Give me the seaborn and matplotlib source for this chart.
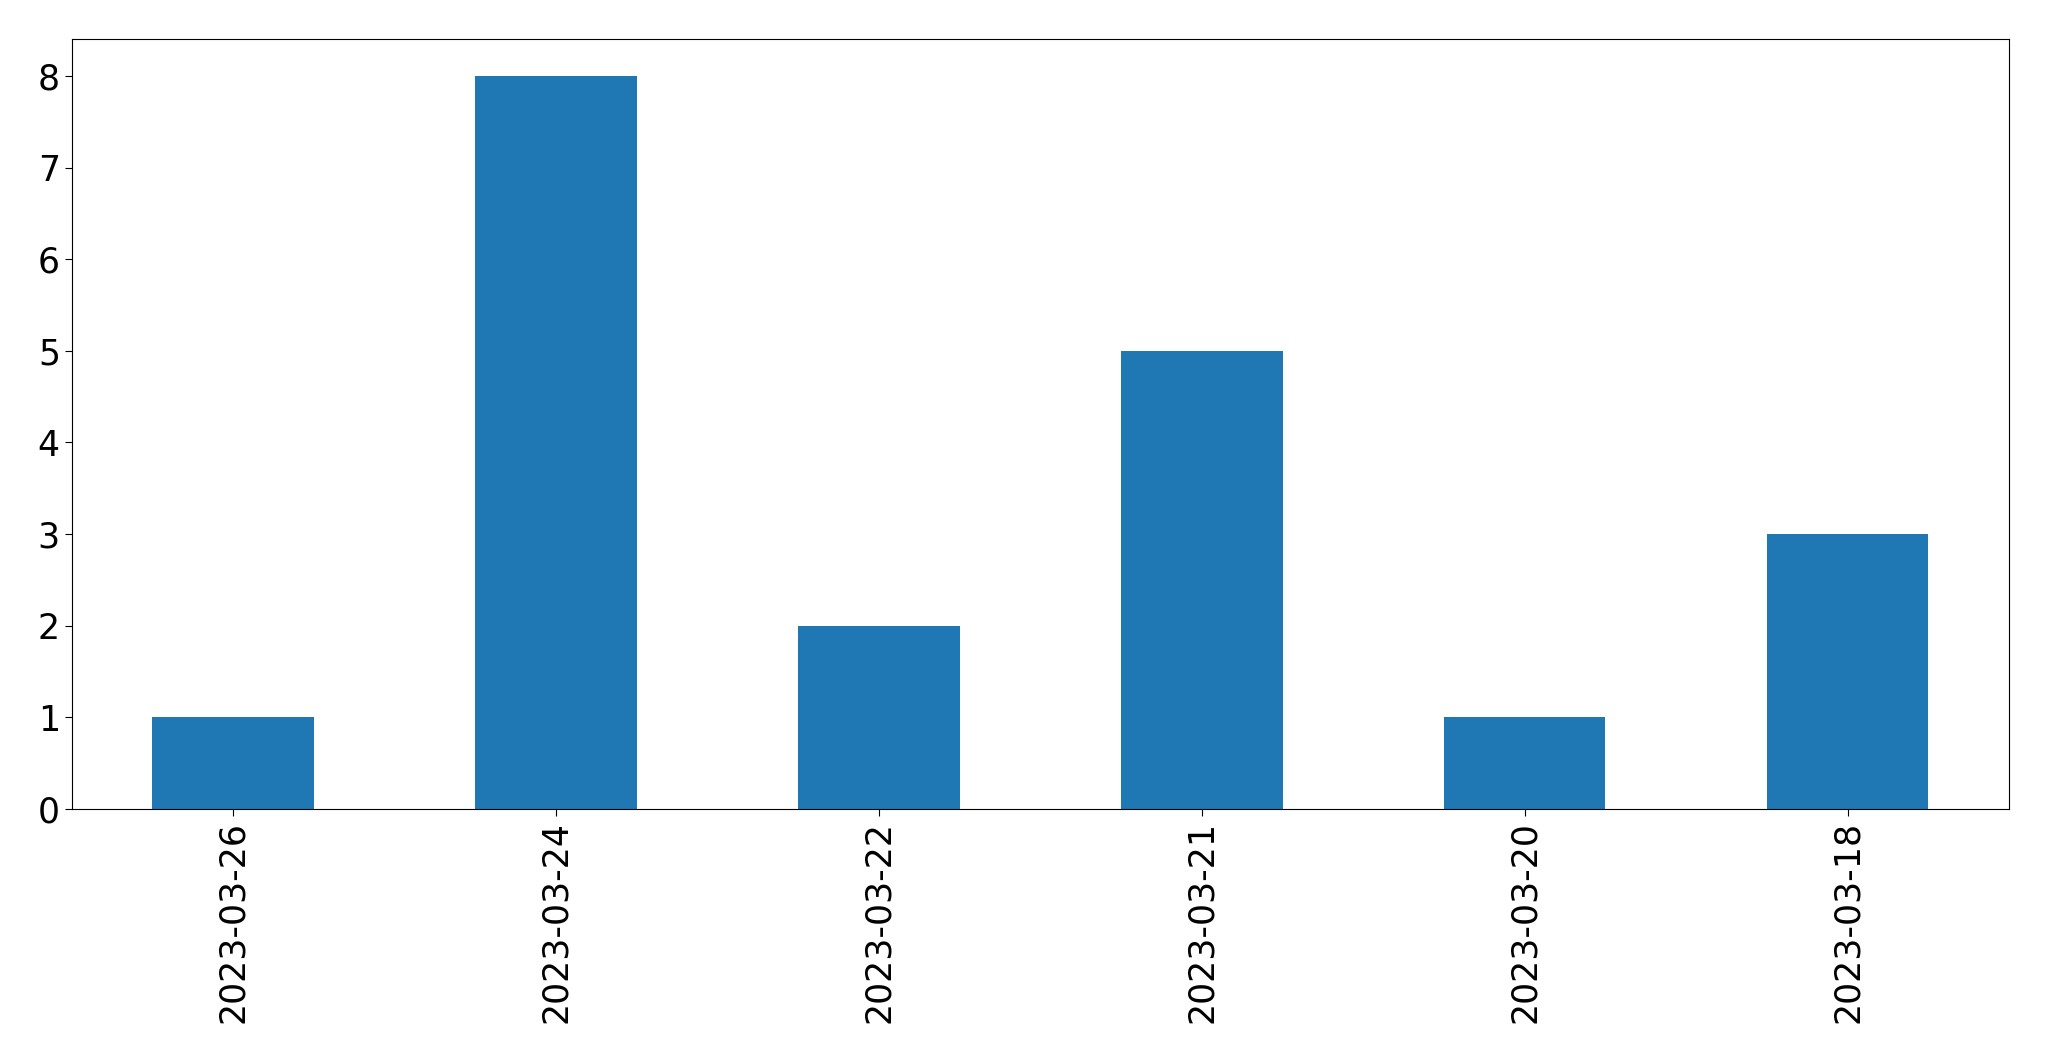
import matplotlib
matplotlib.use('Agg')
import matplotlib.pyplot as plt
import seaborn as sns
import pandas as pd

dates = ['2023-03-26', '2023-03-24', '2023-03-22', '2023-03-21', '2023-03-20', '2023-03-18']
counts = [1, 8, 2, 5, 1, 3]

df = pd.DataFrame({'date': dates, 'count': counts})

fig = plt.figure(figsize=(20.49, 10.61), dpi=100)
ax = fig.add_axes([0.035, 0.2375, 0.9455, 0.7255])
sns.barplot(data=df, x='date', y='count', order=dates, color='#1f77b4',
            saturation=1, width=0.5, ax=ax)
ax.set_xlim(-0.5, len(dates) - 0.5)
ax.set_ylim(0, 8.4)
ax.set_xlabel('')
ax.set_ylabel('')
ax.tick_params(axis='both', labelsize=25, length=5)
plt.xticks(rotation=90)

fig.savefig('out.png', dpi=100)
